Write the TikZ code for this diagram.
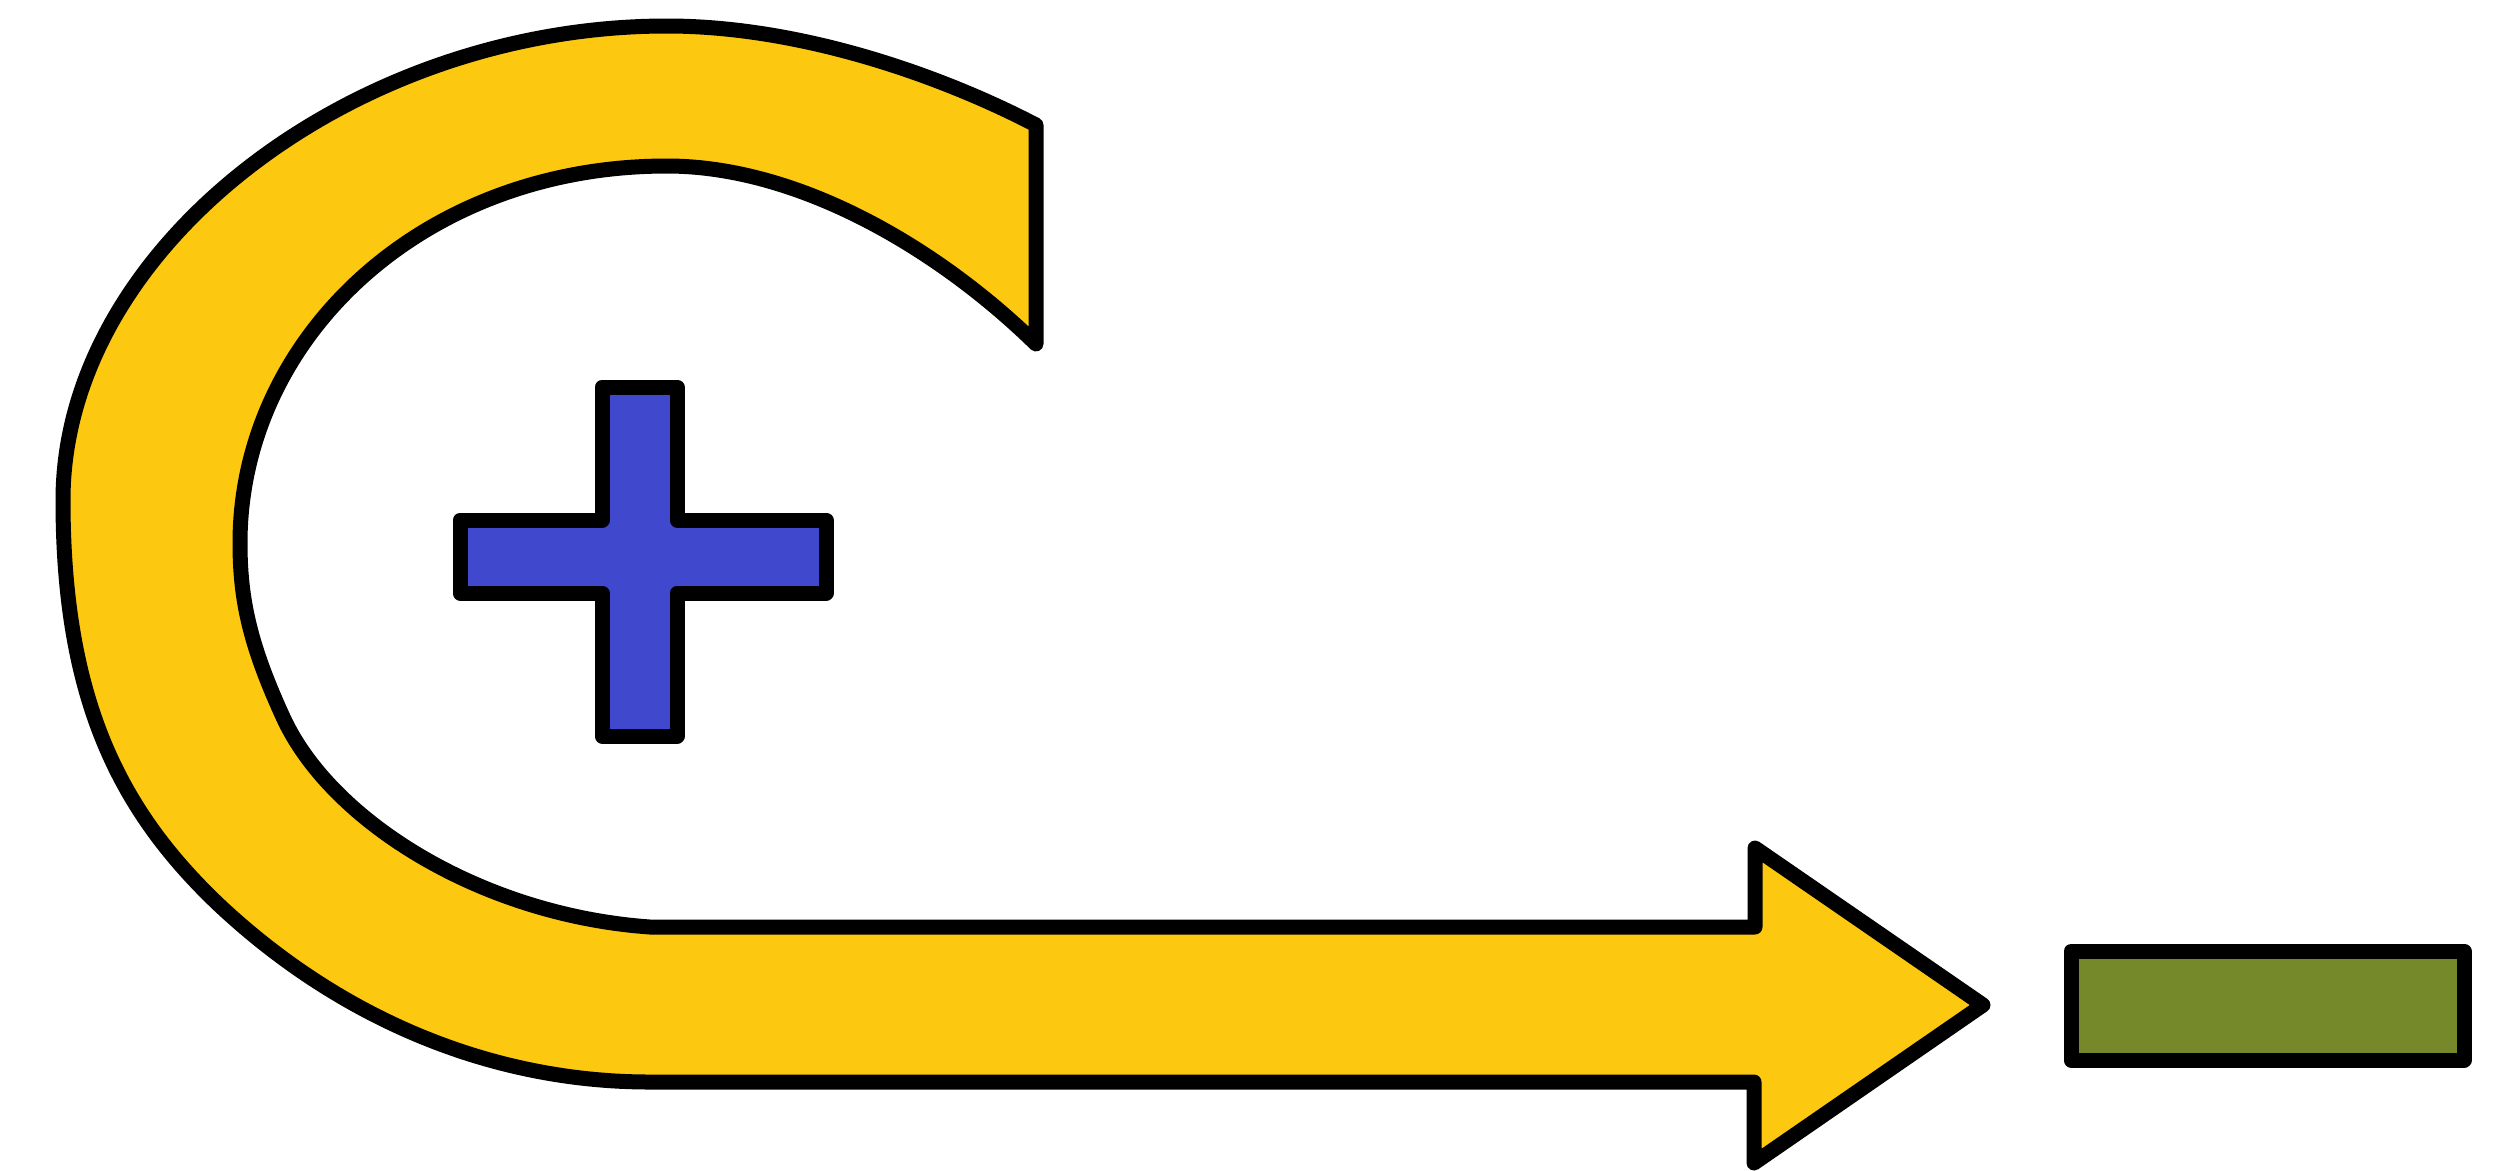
\documentclass[tikz,border=0pt]{standalone}
\usepackage{tikz}
\usetikzlibrary{arrows,%
                shapes,positioning}
\definecolor{arrowyellow}{RGB}{253,200,16}
\definecolor{plusblue}{RGB}{64,73,205}
\definecolor{minusgreen}{RGB}{117,137,43}
\begin{document}
\begin{tikzpicture}[x=0.1mm,y=-0.1mm,
  outline/.style={draw=black,line width=1.5mm,line join=round},
  hook/.style={outline,fill=arrowyellow},
  plus/.style={outline,fill=plusblue},
  minus/.style={outline,fill=minusgreen}]
\useasboundingbox (0,0) rectangle (2500,1170);
\draw[hook] (1036,125)
  .. controls (940,75) and (800,26) .. (667,26)
  .. controls (350,26) and (63,250) .. (63,500)
  .. controls (63,700) and (120,810) .. (217,903)
  .. controls (330,1010) and (480,1082) .. (650,1082)
  -- (1754,1082) -- (1754,1163) -- (1983,1005) -- (1755,848) -- (1755,927) -- (650,927)
  .. controls (480,915) and (330,820) .. (283,717)
  .. controls (250,645) and (240,600) .. (240,543)
  .. controls (240,340) and (420,166) .. (667,166)
  .. controls (800,166) and (940,250) .. (1036,344)
  -- cycle;
\draw[plus] (602,387) -- (677,387) -- (677,520) -- (826,520) -- (826,593) -- (677,593)
  -- (677,736) -- (602,736) -- (602,593) -- (460,593) -- (460,520) -- (602,520) -- cycle;
\draw[minus] (2071,951) rectangle (2464,1060);
\end{tikzpicture}
\end{document}
